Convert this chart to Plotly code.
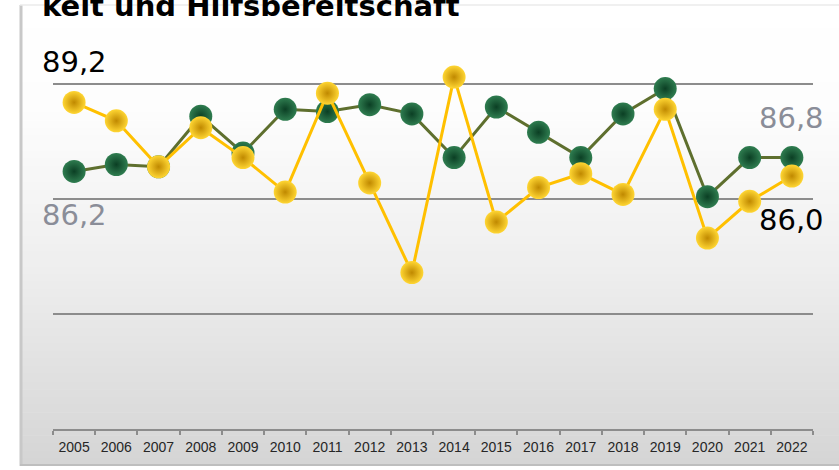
import plotly.graph_objects as go

years = [str(y) for y in range(2005, 2023)]
green_vals = [86.2, 86.5, 86.4, 88.6, 87.0, 88.9, 88.8, 89.1, 88.7, 86.8,
              89.0, 87.9, 86.8, 88.7, 89.8, 85.1, 86.8, 86.8]
gold_vals = [89.2, 88.4, 86.4, 88.1, 86.8, 85.3, 89.6, 85.7, 81.8, 90.3,
             84.0, 85.5, 86.1, 85.2, 88.9, 83.3, 84.9, 86.0]
title_text = "keit und Hilfsbereitschaft"

xs = list(range(len(years)))

W, H = 839, 470
L, R, T, B = 53, 26, 38, 41
PW, PH = W - L - R, H - T - B


def px_x(px):
    return (px - L) / PW


def px_y(py):
    return (H - B - py) / PH


def lerp_color(py):
    stops = [(5, 255), (110, 253), (250, 240), (350, 228), (466, 212)]
    for (y0, c0), (y1, c1) in zip(stops, stops[1:]):
        if py <= y1:
            t = (py - y0) / (y1 - y0)
            c = round(c0 + (c1 - c0) * t)
            return f"rgb({c},{c},{c})"
    c = stops[-1][1]
    return f"rgb({c},{c},{c})"


shapes = []
top, bot = 5, 466
n = 60
step = (bot - top) / n
for i in range(n):
    y0 = top + i * step
    y1 = y0 + step + 0.6
    shapes.append(dict(type="rect", xref="paper", yref="paper", layer="below",
                       x0=px_x(20), x1=px_x(845), y0=px_y(min(y1, bot)), y1=px_y(y0),
                       fillcolor=lerp_color(y0 + step / 2), line=dict(width=0)))
shapes.append(dict(type="line", xref="paper", yref="paper", layer="below",
                   x0=px_x(21), x1=px_x(21), y0=px_y(bot), y1=px_y(top),
                   line=dict(color="rgb(200,200,200)", width=3)))
shapes.append(dict(type="line", xref="paper", yref="paper", layer="below",
                   x0=px_x(20), x1=px_x(845), y0=px_y(5), y1=px_y(5),
                   line=dict(color="rgb(235,235,235)", width=1.5)))
shapes.append(dict(type="line", xref="paper", yref="paper", layer="below",
                   x0=px_x(20), x1=px_x(845), y0=px_y(465), y1=px_y(465),
                   line=dict(color="rgb(190,190,190)", width=2)))

fig = go.Figure()
fig.add_trace(go.Scatter(
    x=xs, y=green_vals, mode="lines+markers",
    line=dict(color="#5e6f2e", width=3),
    marker=dict(size=23, color="#2f7d50", line=dict(width=0),
                gradient=dict(type="radial", color="#0b3f24")),
    customdata=years, hovertemplate="%{customdata}: %{y}<extra></extra>",
    showlegend=False))
fig.add_trace(go.Scatter(
    x=xs, y=gold_vals, mode="lines+markers",
    line=dict(color="#ffc000", width=3),
    marker=dict(size=23, color="#ffd633", line=dict(width=0),
                gradient=dict(type="radial", color="#c08900")),
    customdata=years, hovertemplate="%{customdata}: %{y}<extra></extra>",
    showlegend=False))


def fmt(v):
    return f"{v:.1f}".replace(".", ",")


label_font = "DejaVu Sans"
annotations = [
    dict(x=xs[0], y=gold_vals[0], xref="x", yref="y", text=fmt(gold_vals[0]),
         showarrow=False, yshift=40, font=dict(family=label_font, size=29, color="#000000")),
    dict(x=xs[0], y=green_vals[0], xref="x", yref="y", text=fmt(green_vals[0]),
         showarrow=False, yshift=-44, font=dict(family=label_font, size=29, color="#8a8d98")),
    dict(x=xs[-1], y=green_vals[-1], xref="x", yref="y", text=fmt(green_vals[-1]),
         showarrow=False, yshift=40, font=dict(family=label_font, size=29, color="#8a8d98")),
    dict(x=xs[-1], y=gold_vals[-1], xref="x", yref="y", text=fmt(gold_vals[-1]),
         showarrow=False, yshift=-44, font=dict(family=label_font, size=29, color="#000000")),
    dict(x=px_x(40), y=px_y(6.5), xref="paper", yref="paper", xanchor="left", yanchor="middle",
         text=f"<b>{title_text}</b>", showarrow=False,
         font=dict(family=label_font, size=29, color="#000000")),
]

fig.update_layout(
    width=W, height=H,
    margin=dict(l=L, r=R, t=T, b=B, pad=0, autoexpand=False),
    paper_bgcolor="#ffffff", plot_bgcolor="rgba(0,0,0,0)",
    shapes=shapes, annotations=annotations,
    xaxis=dict(range=[-0.5, len(years) - 0.5], tickmode="array", tickvals=xs, ticktext=years,
               ticks="", tickangle=0, showline=True, linecolor="#8c8c8c",
               linewidth=2, showgrid=False, zeroline=False, automargin=False,
               ticklabelstandoff=4,
               minor=dict(tickmode="linear", tick0=-0.5, dtick=1, ticks="outside",
                          ticklen=4, tickwidth=2, tickcolor="#8c8c8c", showgrid=False),
               tickfont=dict(family="Liberation Sans", size=14, color="#262626")),
    yaxis=dict(range=[75, 92], tick0=75, dtick=5, showgrid=True, gridcolor="#8c8c8c",
               gridwidth=2, showticklabels=False, zeroline=False, showline=False, ticks="",
               automargin=False),
)

fig.write_html("out.html", config={"displayModeBar": False},
               post_script="document.body.style.margin='0';")
